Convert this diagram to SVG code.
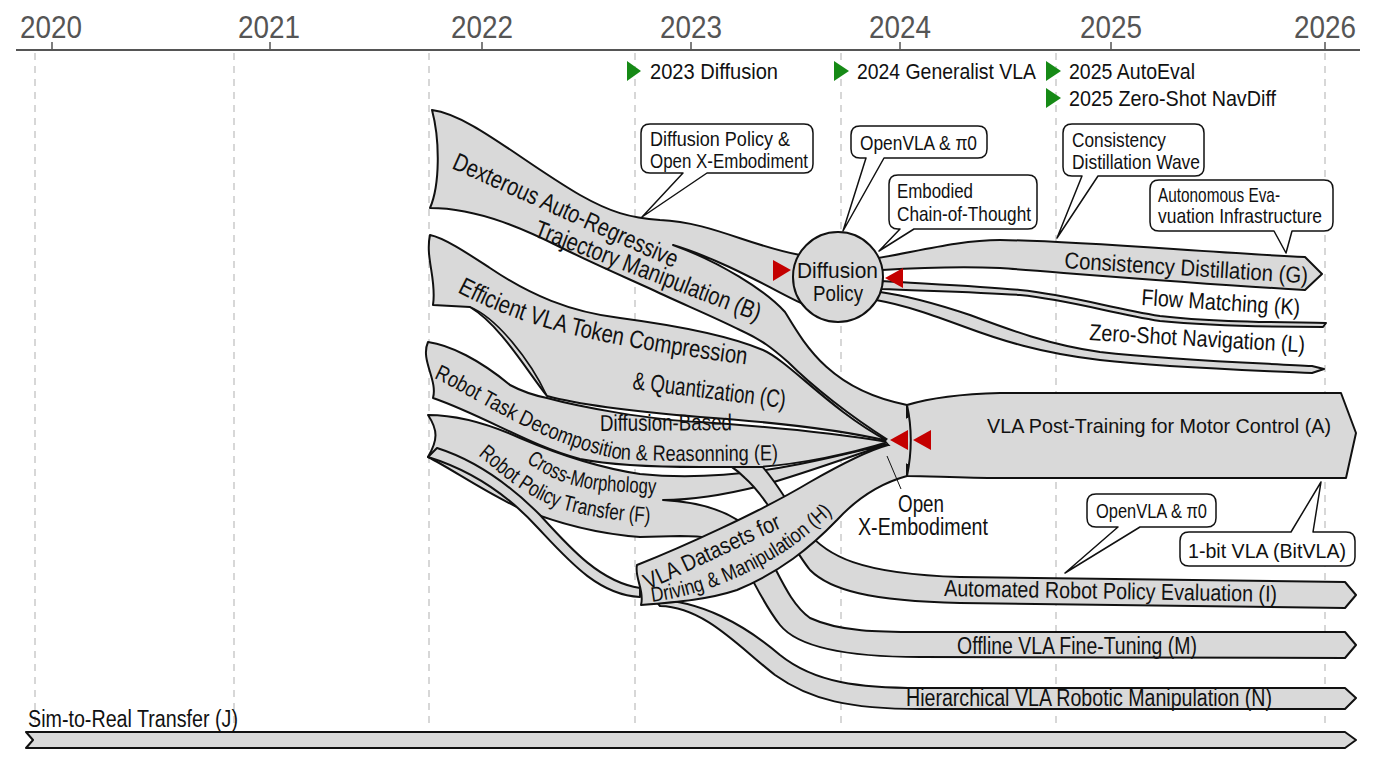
<svg xmlns="http://www.w3.org/2000/svg" width="1376" height="768" viewBox="0 0 1376 768">
<style>
text{font-family:"Liberation Sans Narrow","Liberation Sans",Arial,sans-serif;fill:#111}
.yr{font-size:32px;fill:#555}
.ms{font-size:22px}
.lbl{font-size:23px}
.mid{font-size:22px}
.big{font-size:25px}
.co{font-size:21px}
.band{fill:#d9d9d9;stroke:#111;stroke-width:2;stroke-linejoin:round}
.inner{fill:none;stroke:#111;stroke-width:1.6}
.grid{stroke:#bdbdbd;stroke-width:1.2;stroke-dasharray:7 6}
.call{fill:#fff;stroke:#111;stroke-width:1.5;stroke-linejoin:round}
.red{fill:#c40000}
.grn{fill:#168a16}
</style>
<defs>
<path id="pB1" d="M451,168 L678,270"/>
<path id="pB2" d="M533,236 L764,324"/>
<path id="pC1" d="M457,292 C530,330 600,345 756,366"/>
<path id="pC2" d="M632,389 L792,409"/>
<path id="pE1" d="M600,431 L742,430"/>
<path id="pE2" d="M434,378 C478,398 535,442 618,459 C680,463 740,460 810,460"/>
<path id="pF1" d="M526,462 C548,478 572,488 607,491 L690,496"/>
<path id="pF2" d="M478,455 C503,475 525,498 565,510 C600,519 630,523 700,525"/>
<path id="pH1" d="M648,590 L800,519"/>
<path id="pH2" d="M652,602 C700,596 750,575 790,548 C810,534 830,515 855,492"/>
<path id="pG" d="M1064,268 L1318,284"/>
<path id="pK" d="M1141,305 L1310,316"/>
<path id="pL" d="M1089,340 L1315,353"/>
<path id="pI" d="M944,596 L1290,602"/>
</defs>
<rect width="1376" height="768" fill="#fff"/>
<g id="axis">
<line x1="16" y1="50" x2="1360" y2="50" stroke="#555" stroke-width="2"/>
<g stroke="#555" stroke-width="1.5">
<line x1="52" y1="42" x2="52" y2="50"/><line x1="270" y1="42" x2="270" y2="50"/><line x1="482" y1="42" x2="482" y2="50"/><line x1="691" y1="42" x2="691" y2="50"/><line x1="900" y1="42" x2="900" y2="50"/><line x1="1111" y1="42" x2="1111" y2="50"/><line x1="1325" y1="42" x2="1325" y2="50"/>
</g>
<text class="yr" x="20" y="38" textLength="62" lengthAdjust="spacingAndGlyphs">2020</text>
<text class="yr" x="238" y="38" textLength="62" lengthAdjust="spacingAndGlyphs">2021</text>
<text class="yr" x="451" y="38" textLength="62" lengthAdjust="spacingAndGlyphs">2022</text>
<text class="yr" x="660" y="38" textLength="62" lengthAdjust="spacingAndGlyphs">2023</text>
<text class="yr" x="869" y="38" textLength="62" lengthAdjust="spacingAndGlyphs">2024</text>
<text class="yr" x="1080" y="38" textLength="62" lengthAdjust="spacingAndGlyphs">2025</text>
<text class="yr" x="1294" y="38" textLength="62" lengthAdjust="spacingAndGlyphs">2026</text>
<g class="grid">
<line x1="35" y1="53" x2="35" y2="728"/><line x1="234" y1="53" x2="234" y2="728"/><line x1="429" y1="53" x2="429" y2="728"/><line x1="635" y1="53" x2="635" y2="728"/><line x1="841" y1="53" x2="841" y2="728"/><line x1="1056" y1="53" x2="1056" y2="728"/><line x1="1325" y1="53" x2="1325" y2="728"/>
</g>
</g>
<g id="milestones">
<polygon class="grn" points="627,61 641,71 627,81"/>
<text class="ms" x="650" y="79" textLength="128" lengthAdjust="spacingAndGlyphs">2023 Diffusion</text>
<polygon class="grn" points="834,61 849,71 834,81"/>
<text class="ms" x="857" y="79" textLength="179" lengthAdjust="spacingAndGlyphs">2024 Generalist VLA</text>
<polygon class="grn" points="1046,61 1061,71 1046,81"/>
<text class="ms" x="1069" y="79" textLength="126" lengthAdjust="spacingAndGlyphs">2025 AutoEval</text>
<polygon class="grn" points="1046,88 1061,98 1046,108"/>
<text class="ms" x="1069" y="106" textLength="207" lengthAdjust="spacingAndGlyphs">2025 Zero-Shot NavDiff</text>
</g>
<g id="streams">
<g id="stream-N"><path class="band" d="M655,600 C700,600 745,625 780,655 C815,683 860,688 920,688 L1345,688 L1356,698 L1345,709 L920,709 C850,709 810,700 775,675 C740,648 705,607 660,606 Z"/></g>
<g id="stream-F-M"><path class="band" d="M428,415 C450,415 480,420 520,438 C560,455 600,468 640,474 C700,480 760,472 800,464 C840,456 865,449 888,444 C855,455 800,475 760,486 C720,496 690,500 663,500 C700,502 735,512 755,535 C775,560 785,600 810,618 C840,632 880,632 920,632 L1345,632 L1356,645 L1345,658 L920,657 C860,657 800,650 780,625 C760,600 750,570 735,552 C718,536 700,536 680,536 L640,537 C600,534 555,523 515,506 C480,489 450,468 428,457 C438,440 438,430 428,415 Z"/></g>
<g id="stream-F-tail"><path class="band" d="M437,448 C475,460 510,485 540,515 C570,548 600,582 640,588 L640,597 C598,595 568,560 538,528 C508,495 470,470 428,457 Z"/></g>
<g id="stream-I"><path class="band" d="M752,455 C775,478 792,510 806,530 C826,556 860,574 960,577 L1345,582 L1356,595 L1345,608 L960,603 C870,601 830,590 810,570 C790,545 770,500 745,478 C735,468 722,460 712,455 Z"/></g>
<g id="stream-E"><path class="band" d="M428,342 C450,345 480,360 510,385 C525,393 537,396 547,398 C580,407 650,420 700,422 C790,428 840,434 888,442 C850,454 800,464 760,467 L700,467 C650,467 610,465 580,459 C530,446 485,416 433,398 C438,380 420,360 428,342 Z"/></g>
<g id="stream-C"><path class="band" d="M430,235 C445,238 470,255 490,268 C530,295 570,312 620,318 C680,326 730,336 763,350 C790,362 830,410 888,441 C850,432 800,424 700,417 C640,412 580,405 547,396 C525,368 500,325 470,307 L433,305 C437,280 425,258 430,235 Z"/>
<path class="inner" d="M470,307 C497,318 530,360 547,396"/></g>
<g id="stream-B"><path class="band" d="M432,110 C470,115 520,160 580,195 C610,212 630,218 660,220 C710,222 750,246 800,255 L803,278 L808,306 C790,300 730,262 673,245 C720,262 765,290 785,312 C805,345 830,390 907,405 L907,440 L888,440 C850,416 812,386 788,362 C772,348 762,340 740,330 C710,315 680,303 653,290 C620,275 590,262 560,247 C530,232 480,208 430,208 C440,185 440,140 432,110 Z"/></g>
<g id="stream-H"><path class="band" d="M637,565 C680,548 760,512 810,482 C845,462 870,450 888,445 L907,445 L907,476 C885,482 860,495 837,520 C810,548 780,572 737,590 C710,599 680,602 641,605 C645,591 634,577 637,565 Z"/></g>
<path d="M886,441 L907,418 L915,418 L915,464 L907,464 Z" fill="#d9d9d9"/>
<g id="stream-A"><path class="band" d="M907,405 C930,398 960,394 1000,393 L1341,393 L1356,433 L1346,478 L1000,478 C960,478 930,476 907,476 C912,452 912,428 907,405 Z"/></g>
<g id="stream-G"><path class="band" d="M878,258 C915,252 960,240 1000,240 C1080,241 1200,252 1305,257 L1322,274 L1305,290 C1200,284 1080,274 1000,268 C950,266 915,268 882,270 Z"/></g>
<g id="stream-K"><path class="band" d="M881,281 C930,284 980,286 1020,290 C1070,295 1110,308 1160,316 C1210,322 1270,322 1326,323 L1323,327 C1270,327 1210,326 1160,321 C1110,313 1070,300 1020,295 C980,292 930,291 881,289 Z"/></g>
<g id="stream-L"><path class="band" d="M880,292 C910,296 940,305 970,315 C1010,330 1050,345 1100,352 C1180,361 1260,363 1312,366 L1324,369 L1312,373 C1250,370 1170,368 1100,360 C1040,353 1000,340 965,327 C935,316 905,305 876,300 Z"/></g>
<g id="stream-J"><path class="band" d="M26,732 L1345,732 L1356,740 L1345,748 L26,748 L33,740 Z"/></g>
</g>
<g id="diffusion-policy">
<circle class="band" cx="838" cy="277" r="45"/>
<text class="mid" x="797" y="278" textLength="81" lengthAdjust="spacingAndGlyphs">Diffusion</text>
<text class="mid" x="813" y="301" textLength="50" lengthAdjust="spacingAndGlyphs">Policy</text>
</g>
<g id="connectors">
<polygon class="red" points="773,260 791,270 773,281"/>
<polygon class="red" points="903,268 885,278 903,288"/>
<polygon class="red" points="908,430 890,440 908,450"/>
<polygon class="red" points="931,430 913,440 931,450"/>
<line x1="887" y1="456" x2="901" y2="489" stroke="#111" stroke-width="1"/>
</g>
<g id="labels">
<text class="big"><textPath href="#pB1" textLength="244" lengthAdjust="spacingAndGlyphs">Dexterous Auto-Regressive</textPath></text>
<text class="big"><textPath href="#pB2" textLength="240" lengthAdjust="spacingAndGlyphs">Trajectory Manipulation (B)</textPath></text>
<text class="big"><textPath href="#pC1" textLength="300" lengthAdjust="spacingAndGlyphs">Efficient VLA Token Compression</textPath></text>
<text class="big"><textPath href="#pC2" textLength="154" lengthAdjust="spacingAndGlyphs">&amp; Quantization (C)</textPath></text>
<text class="lbl"><textPath href="#pE1" textLength="132" lengthAdjust="spacingAndGlyphs">Diffusion-Based</textPath></text>
<text class="mid"><textPath href="#pE2" textLength="362" lengthAdjust="spacingAndGlyphs">Robot Task Decomposition &amp; Reasonning (E)</textPath></text>
<text class="mid"><textPath href="#pF1" textLength="136" lengthAdjust="spacingAndGlyphs">Cross-Morphology</textPath></text>
<text class="mid"><textPath href="#pF2" textLength="190" lengthAdjust="spacingAndGlyphs">Robot Policy Transfer (F)</textPath></text>
<text class="lbl"><textPath href="#pH1" textLength="148" lengthAdjust="spacingAndGlyphs">VLA Datasets for</textPath></text>
<text class="co"><textPath href="#pH2" textLength="205" lengthAdjust="spacingAndGlyphs">Driving &amp; Manipulation (H)</textPath></text>
<text x="987" y="433" font-size="21" textLength="344" lengthAdjust="spacingAndGlyphs">VLA Post-Training for Motor Control (A)</text>
<text class="lbl"><textPath href="#pG" textLength="244" lengthAdjust="spacingAndGlyphs">Consistency Distillation (G)</textPath></text>
<text class="lbl"><textPath href="#pK" textLength="159" lengthAdjust="spacingAndGlyphs">Flow Matching (K)</textPath></text>
<text class="lbl"><textPath href="#pL" textLength="216" lengthAdjust="spacingAndGlyphs">Zero-Shot Navigation (L)</textPath></text>
<text class="lbl"><textPath href="#pI" textLength="333" lengthAdjust="spacingAndGlyphs">Automated Robot Policy Evaluation (I)</textPath></text>
<text class="lbl" x="957" y="654" textLength="240" lengthAdjust="spacingAndGlyphs">Offline VLA Fine-Tuning (M)</text>
<text class="lbl" x="906" y="706" textLength="366" lengthAdjust="spacingAndGlyphs">Hierarchical VLA Robotic Manipulation (N)</text>
<text class="lbl" x="28" y="727" textLength="210" lengthAdjust="spacingAndGlyphs">Sim-to-Real Transfer (J)</text>
<text class="lbl" x="898" y="512" textLength="46" lengthAdjust="spacingAndGlyphs">Open</text>
<text class="lbl" x="858" y="535" textLength="130" lengthAdjust="spacingAndGlyphs">X-Embodiment</text>
</g>
<g id="callout-diffusion-oxe">
<path class="call" d="M650,124 H804 Q813,124 813,133 V164 Q813,173 804,173 H707 L642,217 L683,173 H650 Q641,173 641,164 V133 Q641,124 650,124 Z"/>
<text class="co" x="650" y="146" textLength="140" lengthAdjust="spacingAndGlyphs">Diffusion Policy &amp;</text>
<text class="co" x="650" y="168" textLength="158" lengthAdjust="spacingAndGlyphs">Open X-Embodiment</text>
</g>
<g id="callout-openvla-1">
<path class="call" d="M860,126 H978 Q987,126 987,135 V149 Q987,158 978,158 H884 L843,231 L866,158 H860 Q851,158 851,149 V135 Q851,126 860,126 Z"/>
<text class="co" x="860" y="150" textLength="117" lengthAdjust="spacingAndGlyphs">OpenVLA &amp; π0</text>
</g>
<g id="callout-ecot">
<path class="call" d="M898,175 H1028 Q1037,175 1037,184 V220 Q1037,229 1028,229 H914 L879,251 L900,229 H898 Q889,229 889,220 V184 Q889,175 898,175 Z"/>
<text class="co" x="897" y="198" textLength="76" lengthAdjust="spacingAndGlyphs">Embodied</text>
<text class="co" x="897" y="221" textLength="134" lengthAdjust="spacingAndGlyphs">Chain-of-Thought</text>
</g>
<g id="callout-consistency">
<path class="call" d="M1072,124 H1195 Q1204,124 1204,133 V167 Q1204,176 1195,176 H1098 L1057,238 L1082,176 H1072 Q1063,176 1063,167 V133 Q1063,124 1072,124 Z"/>
<text class="co" x="1072" y="147" textLength="94" lengthAdjust="spacingAndGlyphs">Consistency</text>
<text class="co" x="1072" y="169" textLength="128" lengthAdjust="spacingAndGlyphs">Distillation Wave</text>
</g>
<g id="callout-autoeval">
<path class="call" d="M1159,180 H1324 Q1333,180 1333,189 V222 Q1333,231 1324,231 H1292 L1286,253 L1274,231 H1159 Q1150,231 1150,222 V189 Q1150,180 1159,180 Z"/>
<text class="co" x="1158" y="202" textLength="122" lengthAdjust="spacingAndGlyphs">Autonomous Eva-</text>
<text class="co" x="1158" y="223" textLength="164" lengthAdjust="spacingAndGlyphs">vuation Infrastructure</text>
</g>
<g id="callout-openvla-2">
<path class="call" d="M1096,494 H1207 Q1216,494 1216,503 V518 Q1216,527 1207,527 H1140 L1065,573 L1118,527 H1096 Q1087,527 1087,518 V503 Q1087,494 1096,494 Z"/>
<text class="co" x="1096" y="518" textLength="111" lengthAdjust="spacingAndGlyphs">OpenVLA &amp; π0</text>
</g>
<g id="callout-bitvla">
<path class="call" d="M1189,532 H1291 L1321,482 L1313,532 H1346 Q1355,532 1355,541 V557 Q1355,566 1346,566 H1189 Q1180,566 1180,557 V541 Q1180,532 1189,532 Z"/>
<text class="co" x="1188" y="558" textLength="158" lengthAdjust="spacingAndGlyphs">1-bit VLA (BitVLA)</text>
</g>
</svg>
